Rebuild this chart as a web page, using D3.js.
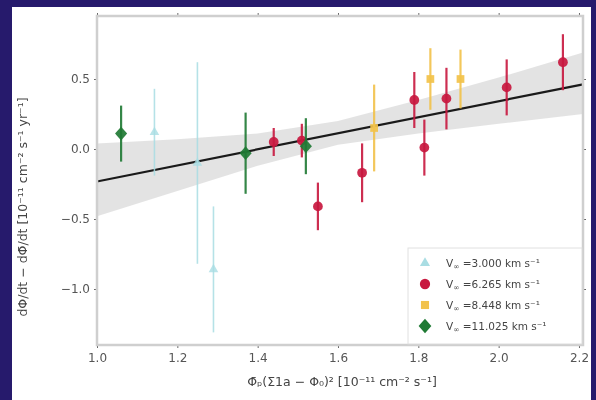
<!DOCTYPE html>
<html><head><meta charset="utf-8">
<script src="https://cdn.jsdelivr.net/npm/d3@7"></script>
<style>
html,body{margin:0;padding:0;background:#261a6c;}
svg{display:block;filter:blur(0.5px);}
text{font-family:"DejaVu Sans",sans-serif;}
</style></head>
<body>
<svg id="c" width="596" height="400"></svg>
<script>
// ---- data ----
const xTicks = [1.0, 1.2, 1.4, 1.6, 1.8, 2.0, 2.2];
const yTicks = [-1.0, -0.5, 0.0, 0.5];
const seriesNames = ["V∞ =3.000 km s⁻¹", "V∞ =6.265 km s⁻¹", "V∞ =8.448 km s⁻¹", "V∞ =11.025 km s⁻¹"];
const seriesColors = ["#a9dde3", "#c8183f", "#f2c24a", "#1f7a34"];
const seriesShapes = ["triangle", "circle", "square", "diamond"];
// points: x, y, error per series
const cyanX = [1.143, 1.25, 1.29];
const cyanY = [0.12, -0.10, -0.86];
const cyanE = [0.31, 0.72, 0.45];
const redX = [1.44, 1.51, 1.55, 1.66, 1.79, 1.815, 1.87, 2.02, 2.16];
const redY = [0.05, 0.06, -0.41, -0.17, 0.35, 0.01, 0.36, 0.44, 0.62];
const redE = [0.10, 0.12, 0.17, 0.21, 0.20, 0.20, 0.22, 0.20, 0.20];
const yellowX = [1.69, 1.83, 1.905];
const yellowY = [0.15, 0.50, 0.50];
const yellowE = [0.31, 0.22, 0.21];
const greenX = [1.06, 1.37, 1.52];
const greenY = [0.11, -0.03, 0.02];
const greenE = [0.20, 0.29, 0.20];
// fit line and confidence band
const fitX = [1.0, 2.21];
const fitY = [-0.232, 0.462];
const bandX = [1.0, 1.2, 1.4, 1.6, 1.8, 2.0, 2.21];
const bandLo = [-0.48, -0.30, -0.12, 0.03, 0.11, 0.18, 0.25];
const bandHi = [0.04, 0.07, 0.11, 0.20, 0.35, 0.51, 0.69];

const svg = d3.select("#c");
svg.append("rect").attr("x",12).attr("y",7).attr("width",579).attr("height",393).attr("fill","#ffffff");

const L=97, R=583, T=16, B=345;
const x = d3.scaleLinear().domain([1.0, 2.21]).range([L, R]);
const y = d3.scaleLinear().domain([-1.4, 0.95]).range([B, T]);

const g = svg.append("g");
const band = bandX.map((v,i)=>({x:v, lo:bandLo[i], hi:bandHi[i]}));
g.append("path").datum(band)
  .attr("d", d3.area().x(d=>x(d.x)).y0(d=>y(d.lo)).y1(d=>y(d.hi)))
  .attr("fill","#d9d9d9").attr("opacity",0.75);
g.append("path").datum(fitX.map((v,i)=>[v,fitY[i]]))
  .attr("d", d3.line().x(d=>x(d[0])).y(d=>y(d[1])))
  .attr("stroke","#1a1a1a").attr("stroke-width",2.2).attr("fill","none");

const series = [
  {xs:cyanX, ys:cyanY, es:cyanE},
  {xs:redX, ys:redY, es:redE},
  {xs:yellowX, ys:yellowY, es:yellowE},
  {xs:greenX, ys:greenY, es:greenE}
];
const symType = {triangle:d3.symbolTriangle, circle:d3.symbolCircle, square:d3.symbolSquare, diamond:d3.symbolDiamond};
const symSize = {triangle:40, circle:75, square:60, diamond:75};

series.forEach((s,si)=>{
  const col = seriesColors[si];
  const pts = s.xs.map((v,i)=>({x:v, y:s.ys[i], e:s.es[i]}));
  const sg = g.append("g");
  sg.selectAll("line.err").data(pts).join("line")
    .attr("x1",d=>x(d.x)).attr("x2",d=>x(d.x))
    .attr("y1",d=>y(d.y+d.e)).attr("y2",d=>y(d.y-d.e))
    .attr("stroke",col).attr("stroke-width", si===0?1.6:2.2).attr("opacity", si===0?0.85:0.9);
  sg.selectAll("path.pt").data(pts).join("path")
    .attr("transform",d=>`translate(${x(d.x)},${y(d.y)})` + (si===3?" scale(1.3,0.85)":""))
    .attr("d", d3.symbol().type(symType[seriesShapes[si]]).size(symSize[seriesShapes[si]]))
    .attr("fill",col).attr("opacity", si===0?0.8:0.92);
});

const ax = d3.axisBottom(x).tickValues(xTicks).tickFormat(d3.format(".1f")).tickSize(3).tickPadding(5);
const axT = d3.axisTop(x).tickValues(xTicks).tickFormat("").tickSize(3);
const ay = d3.axisLeft(y).tickValues(yTicks).tickFormat(d=>d3.format(".1f")(d).replace("-","−")).tickSize(3).tickPadding(4);
const ayR = d3.axisRight(y).tickValues(yTicks).tickFormat("").tickSize(3);
function style(sel){
  sel.select(".domain").remove();
  sel.selectAll(".tick line").attr("stroke","#666").attr("stroke-width",1);
  sel.selectAll(".tick text").attr("fill","#555").attr("font-size",12);
}
svg.append("g").attr("transform",`translate(0,${B})`).call(ax).call(style);
svg.append("g").attr("transform",`translate(0,${T})`).call(axT).call(style);
svg.append("g").attr("transform",`translate(${L},0)`).call(ay).call(style);
svg.append("g").attr("transform",`translate(${R},0)`).call(ayR).call(style);
svg.append("rect").attr("x",L).attr("y",T).attr("width",R-L).attr("height",B-T)
  .attr("fill","none").attr("stroke","#cfcfcf").attr("stroke-width",2.5);

// legend
const lg = svg.append("g");
lg.append("rect").attr("x",408).attr("y",248).attr("width",174).attr("height",96)
  .attr("fill","#ffffff").attr("opacity",0.85).attr("stroke","#dcdcdc").attr("stroke-width",1);
seriesNames.forEach((n,i)=>{
  const yy = 263 + i*21;
  lg.append("path").attr("transform",`translate(425,${yy})` + (i===3?" scale(1.3,0.85)":""))
    .attr("d", d3.symbol().type(symType[seriesShapes[i]]).size(symSize[seriesShapes[i]]*1.1))
    .attr("fill",seriesColors[i]);
  const t = lg.append("text").attr("x",446).attr("y",yy+4).attr("font-size",10.5).attr("fill","#444");
  const parts = n.split("∞");
  t.append("tspan").text("V");
  t.append("tspan").attr("font-size",7.5).attr("dy",2).text("∞");
  t.append("tspan").attr("dy",-2).text(" " + parts[1].trim());
});

svg.append("text").attr("x",342).attr("y",386).attr("text-anchor","middle")
  .attr("font-size",12.5).attr("fill","#444")
  .text("Φ̄ₚ(Σ1a − Φ₀)² [10⁻¹¹ cm⁻² s⁻¹]");
svg.append("text").attr("transform","translate(27,207) rotate(-90)").attr("text-anchor","middle")
  .attr("font-size",12.5).attr("fill","#444")
  .text("dΦ/dt − dΦ̄/dt [10⁻¹¹ cm⁻² s⁻¹ yr⁻¹]");
</script>
</body></html>
